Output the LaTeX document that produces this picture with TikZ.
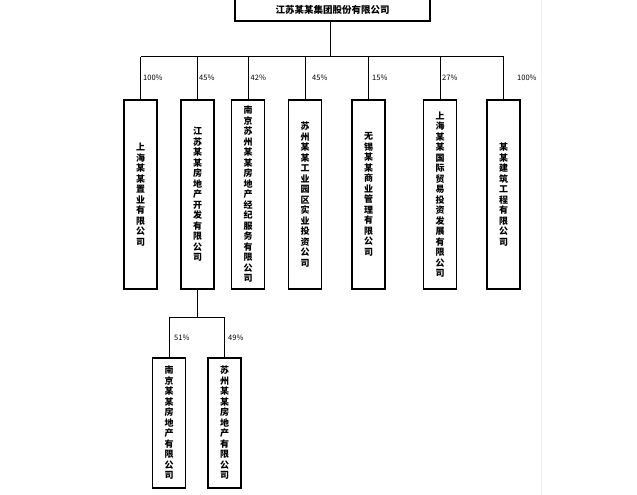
\documentclass[tikz,border=0pt]{standalone}
\usepackage{fontspec}
\setmainfont{Noto Sans CJK SC}
\XeTeXlinebreaklocale "zh"
\XeTeXlinebreakskip=0pt plus 1pt
\setlength{\parindent}{0pt}
\begin{document}
\begin{tikzpicture}[x=1pt,y=-1pt,
  box/.style={draw, line width=1.3pt, inner sep=0pt, text width=10pt, align=center,
    font=\fontsize{9}{10.5}\selectfont\bfseries, minimum width=33pt, minimum height=189pt},
  subbox/.style={box, minimum height=130pt},
  lab/.style={font=\fontsize{7.5}{8}\selectfont, anchor=west, inner sep=1pt},
  conn/.style={line width=1pt}]
\useasboundingbox (0,0) rectangle (637,495);
\draw[black!6] (541,0) -- (541,495);
% top
\node[draw, line width=1.3pt, minimum width=195pt, minimum height=23pt, inner sep=0pt,
  font=\fontsize{9.5}{10}\selectfont\bfseries] (top) at (332.5,9.5) {江苏某某集团股份有限公司};
% level 1
\node[box] (b1) at (140.5,194.5) {上海某某置业有限公司};
\node[box] (b2) at (197.5,194.5) {江苏某某房地产开发有限公司};
\node[box] (b3) at (248,194.5) {南京苏州某某房地产经纪服务有限公司};
\node[box] (b4) at (305,194.5) {苏州某某工业园区实业投资公司};
\node[box] (b5) at (368.5,194.5) {无锡某某商业管理有限公司};
\node[box] (b6) at (440,194.5) {上海某某国际贸易投资发展有限公司};
\node[box] (b7) at (503.5,194.5) {某某建筑工程有限公司};
% level 2
\node[subbox] (s1) at (169,423) {南京某某房地产有限公司};
\node[subbox] (s2) at (224.5,423) {苏州某某房地产有限公司};
% connectors
\coordinate (bus) at (330,57);
\coordinate (sbus) at (197,317);
\draw[conn] (top.south -| bus) -- (bus);
\draw[conn] (b1.north |- bus) -- (b7.north |- bus);
\foreach \b in {b1,b2,b3,b4,b5,b6,b7}{
  \draw[conn] (\b.north |- bus) -- (\b.north);
}
\draw[conn] (b2.south) -- (b2.south |- sbus);
\draw[conn] (s1.north |- sbus) -- (s2.north |- sbus);
\draw[conn] (s1.north |- sbus) -- (s1.north);
\draw[conn] (s2.north |- sbus) -- (s2.north);
% labels
\node[lab] (p1) at (142,78) {100\%};
\node[lab] (p2) at (198,78) {45\%};
\node[lab] (p3) at (249.5,78) {42\%};
\node[lab] (p4) at (311,78) {45\%};
\node[lab] (p5) at (371,78) {15\%};
\node[lab] (p6) at (441,78) {27\%};
\node[lab] (p7) at (516,78) {100\%};
\node[lab] (q1) at (173,338) {51\%};
\node[lab] (q2) at (227,338) {49\%};
\end{tikzpicture}
\end{document}
